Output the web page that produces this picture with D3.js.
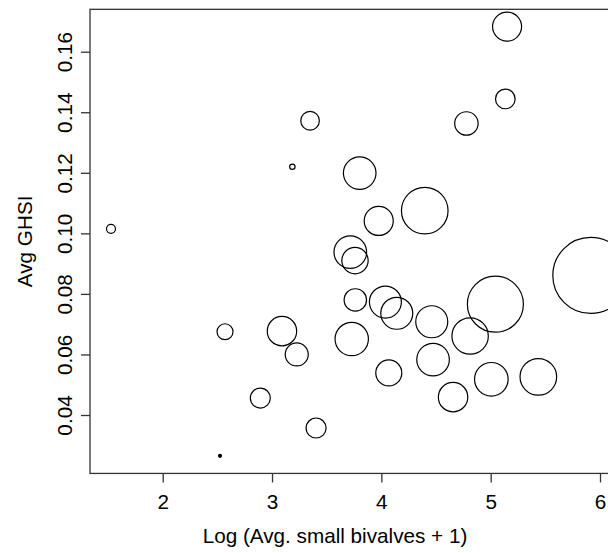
<!DOCTYPE html>
<html>
<head>
<meta charset="utf-8">
<script src="https://cdn.jsdelivr.net/npm/d3@7"></script>
<style>
  html, body { margin: 0; padding: 0; background: #fff; }
  svg { display: block; }
  text { font-family: "Liberation Sans", Arial, sans-serif; fill: #000; }
</style>
</head>
<body>
<div id="chart"></div>
<script>
// Bubble data
const logBivalves = [1.527, 2.524, 2.570, 3.186, 3.348, 2.893, 3.091, 3.226, 3.403, 3.802,
                     3.976, 4.397, 3.716, 3.759, 3.762, 4.037, 4.141, 3.729, 4.068, 4.461,
                     4.812, 5.043, 4.473, 4.656, 5.006, 5.436, 5.916, 5.150, 5.134, 4.778];
const avgGHSI = [0.1015, 0.0265, 0.0675, 0.1220, 0.1372, 0.0456, 0.0677, 0.0600, 0.0357, 0.1199,
                 0.1041, 0.1075, 0.0938, 0.0910, 0.0780, 0.0773, 0.0736, 0.0651, 0.0539, 0.0708,
                 0.0661, 0.0766, 0.0583, 0.0459, 0.0518, 0.0526, 0.0861, 0.1683, 0.1444, 0.1363];
const bubbleSize = [1.18, 0.39, 2.1, 0.71, 2.45, 2.63, 3.87, 3.03, 2.63, 4.29,
                    3.82, 6.13, 4.29, 3.47, 2.95, 4.21, 4.21, 4.39, 3.42, 4.21,
                    4.79, 7.37, 4.29, 3.87, 4.42, 4.82, 10, 3.82, 2.58, 3.08];

const xTicks = [2, 3, 4, 5, 6];
const yTicks = [0.04, 0.06, 0.08, 0.10, 0.12, 0.14, 0.16];

const width = 608;
const height = 553;

const x = d3.scaleLinear().domain([2, 6]).range([162.7, 600]);
const y = d3.scaleLinear().domain([0.04, 0.16]).range([415, 51.7]);
const r = d3.scaleLinear().domain([0, 10]).range([0, 38]);

// plot region (right side runs off the canvas)
const plotLeft = x(1.335), plotRight = x(6.2);
const plotTop = y(0.174), plotBottom = y(0.0207);

const svg = d3.select("#chart")
    .append("svg")
    .attr("width", width)
    .attr("height", height);

const points = logBivalves.map((v, i) => ({ x: v, y: avgGHSI[i], s: bubbleSize[i] }));

// bubbles
svg.append("g")
    .selectAll("circle")
    .data(points)
    .join("circle")
    .attr("cx", d => x(d.x))
    .attr("cy", d => y(d.y))
    .attr("r", d => r(d.s))
    .attr("fill", d => d.s < 0.5 ? "#000" : "none")
    .attr("stroke", "#000")
    .attr("stroke-width", 1.2);

// box
svg.append("rect")
    .attr("x", plotLeft)
    .attr("y", plotTop)
    .attr("width", plotRight - plotLeft)
    .attr("height", plotBottom - plotTop)
    .attr("fill", "none")
    .attr("stroke", "#333")
    .attr("stroke-width", 1.3);

// x axis
const xAxis = svg.append("g")
    .attr("transform", `translate(0,${plotBottom})`)
    .call(d3.axisBottom(x).tickValues(xTicks).tickSize(9).tickSizeOuter(0).tickFormat(d3.format("d")));
xAxis.select(".domain").remove();
xAxis.selectAll("line").attr("stroke", "#333").attr("stroke-width", 1.3);
xAxis.selectAll("text")
    .attr("y", 35.5)
    .attr("dy", null)
    .style("font-size", "20.7px")
    .style("font-family", "'Liberation Sans', Arial, sans-serif")
    .attr("fill", "#000");

// y axis
const yAxis = svg.append("g")
    .attr("transform", `translate(${plotLeft},0)`)
    .call(d3.axisLeft(y).tickValues(yTicks).tickSize(9).tickSizeOuter(0).tickFormat(d3.format(".2f")));
yAxis.select(".domain").remove();
yAxis.selectAll("line").attr("stroke", "#333").attr("stroke-width", 1.3);
yAxis.selectAll("text")
    .attr("x", null)
    .attr("dy", null)
    .attr("text-anchor", "middle")
    .attr("transform", `translate(${71.5 - plotLeft},0) rotate(-90)`)
    .style("font-size", "20.7px")
    .style("font-family", "'Liberation Sans', Arial, sans-serif")
    .attr("fill", "#000");

// axis titles
svg.append("text")
    .attr("x", 335)
    .attr("y", 543)
    .attr("text-anchor", "middle")
    .style("font-size", "20.7px")
    .text("Log (Avg. small bivalves + 1)");

svg.append("text")
    .attr("transform", `translate(32,${(plotTop + plotBottom) / 2}) rotate(-90)`)
    .attr("text-anchor", "middle")
    .style("font-size", "20.7px")
    .text("Avg GHSI");
</script>
</body>
</html>
